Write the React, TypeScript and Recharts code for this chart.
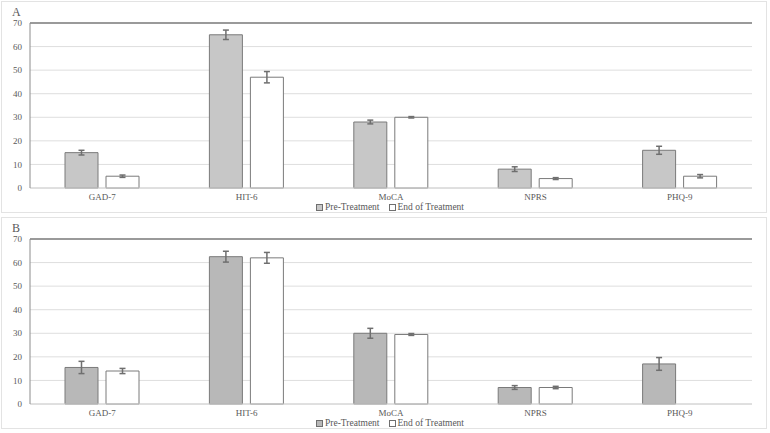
import {
  BarChart,
  Bar,
  XAxis,
  YAxis,
  CartesianGrid,
  ErrorBar,
  Legend,
  ReferenceLine,
} from 'recharts';

const categories = ['GAD-7', 'HIT-6', 'MoCA', 'NPRS', 'PHQ-9'];
const yTicks = [0, 10, 20, 30, 40, 50, 60, 70];

// panel A
const preA = [15, 65, 28, 8, 16];
const preAErr = [1, 2, 0.8, 1, 1.7];
const endA = [5, 47, 30, 4, 5];
const endAErr = [0.5, 2.4, 0.3, 0.4, 0.7];

// panel B
const preB = [15.5, 62.5, 30, 7, 17];
const preBErr = [2.6, 2.3, 2.1, 0.8, 2.7];
const endB = [14, 62, 29.5, 7, null];
const endBErr = [1.1, 2.3, 0.4, 0.5, null];

const FONT = '"Liberation Serif", "Times New Roman", serif';
const TEXT = '#595959';

function buildRows(pre: (number | null)[], preErr: (number | null)[], end: (number | null)[], endErr: (number | null)[]) {
  return categories.map((name, i) => ({
    name,
    pre: pre[i],
    preErr: preErr[i],
    end: end[i],
    endErr: endErr[i],
  }));
}

function LegendContent({ preFill }: { preFill: string }) {
  const item = (fill: string, label: string, gap: number) => (
    <span style={{ display: 'inline-flex', alignItems: 'center', marginRight: gap }}>
      <svg width={7} height={7} style={{ marginRight: 2 }}>
        <rect x={0.5} y={0.5} width={6} height={6} fill={fill} stroke="#6f6f6f" />
      </svg>
      {label}
    </span>
  );
  return (
    <div
      style={{
        fontFamily: FONT,
        fontSize: 9.5,
        color: TEXT,
        textAlign: 'center',
        lineHeight: '9px',
        height: 9,
        paddingLeft: 26,
      }}
    >
      {item(preFill, 'Pre-Treatment', 9)}
      {item('#ffffff', 'End of Treatment', 0)}
    </div>
  );
}

function Panel({ label, rows, preFill, top }: { label: string; rows: any[]; preFill: string; top: number }) {
  return (
    <div
      style={{
        position: 'absolute',
        left: 1,
        top,
        width: 766,
        height: 212,
        border: '1px solid #e3e3e3',
        boxSizing: 'border-box',
        background: '#fff',
      }}
    >
      <div style={{ position: 'absolute', left: 10, top: 3, fontFamily: FONT, fontSize: 12, color: TEXT }}>{label}</div>
      <BarChart
        width={764}
        height={210}
        data={rows}
        margin={{ top: 21, right: 14, left: 0, bottom: 0 }}
        barSize={33}
        barGap={8}
      >
        <CartesianGrid horizontal vertical={false} stroke="#dedede" />
        <XAxis
          dataKey="name"
          tickLine={false}
          axisLine={{ stroke: '#d0d0d0' }}
          height={15}
          tickMargin={0}
          tick={{ fontFamily: FONT, fontSize: 9, fill: TEXT }}
        />
        <YAxis
          domain={[0, 70]}
          ticks={yTicks}
          width={28}
          tickLine={false}
          axisLine={{ stroke: '#8c8c8c' }}
          tick={{ fontFamily: FONT, fontSize: 9, fill: TEXT }}
        />
        <YAxis
          yAxisId="r"
          orientation="right"
          domain={[0, 70]}
          width={0}
          tick={false}
          tickLine={false}
          axisLine={{ stroke: '#8c8c8c' }}
        />
        <ReferenceLine y={70} stroke="#9a9a9a" strokeWidth={2} />
        <Legend verticalAlign="bottom" height={9} content={() => <LegendContent preFill={preFill} />} />
        <Bar dataKey="pre" fill={preFill} stroke="#7a7a7a" strokeWidth={1} isAnimationActive={false}>
          <ErrorBar dataKey="preErr" direction="y" width={3} stroke="#6f6f6f" strokeWidth={1.5} />
        </Bar>
        <Bar dataKey="end" fill="#ffffff" stroke="#7a7a7a" strokeWidth={1} isAnimationActive={false}>
          <ErrorBar dataKey="endErr" direction="y" width={3} stroke="#6f6f6f" strokeWidth={1.5} />
        </Bar>
      </BarChart>
    </div>
  );
}

export default function App() {
  return (
    <div style={{ position: 'absolute', left: 0, top: 0, width: 770, height: 433, background: '#fff' }}>
      <Panel label="A" rows={buildRows(preA, preAErr, endA, endAErr)} preFill="#c7c7c7" top={1} />
      <Panel label="B" rows={buildRows(preB, preBErr, endB, endBErr)} preFill="#b8b8b8" top={217} />
    </div>
  );
}
